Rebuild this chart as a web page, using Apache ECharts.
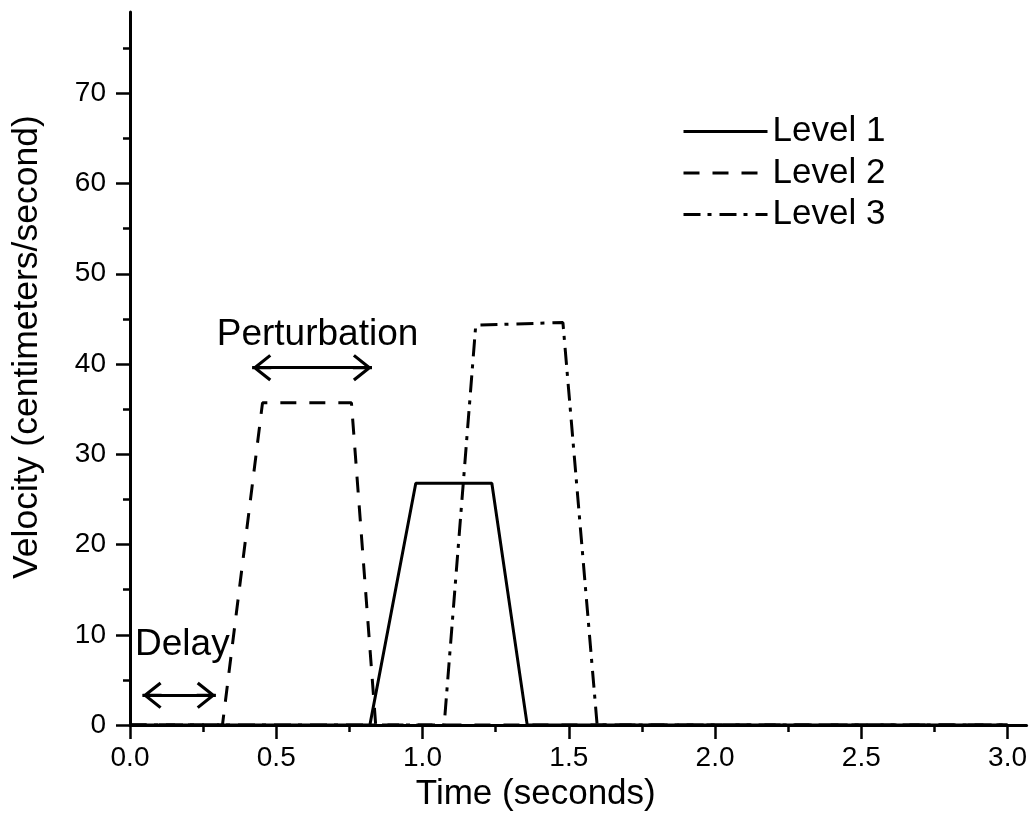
<!DOCTYPE html>
<html><head><meta charset="utf-8">
<script src="https://cdn.jsdelivr.net/npm/echarts@6/dist/echarts.min.js"></script>
<style>html,body{margin:0;padding:0;background:#fff}#c{width:1030px;height:817px}</style>
</head><body><div id="c"></div>
<script>
// ---- data ----
const seriesNames = ['Level 1', 'Level 2', 'Level 3'];
const level1Time = [0, 0.82, 0.977, 1.237, 1.358, 3.0];
const level1Vel  = [0, 0, 26.8, 26.8, 0, 0];
const level2Time = [0, 0.316, 0.453, 0.757, 0.84, 3.0];
const level2Vel  = [0, 0, 35.7, 35.7, 0, 0];
const level3Time = [0, 1.074, 1.182, 1.48, 1.597, 3.0];
const level3Vel  = [0, 0, 44.3, 44.6, 0, 0];
const xTicks = [0, 0.5, 1.0, 1.5, 2.0, 2.5, 3.0];
const xMinorTicks = [0.25, 0.75, 1.25, 1.75, 2.25, 2.75];
const yTicks = [0, 10, 20, 30, 40, 50, 60, 70];
const yMinorTicks = [5, 15, 25, 35, 45, 55, 65, 75];
const annotationTexts = ['Perturbation', 'Delay'];
const annotationPos = [[0.641, 43.2], [0.179, 8.9]];
const arrowSpans = [[[0.418, 39.6], [0.827, 39.6]], [[0.043, 3.3], [0.293, 3.3]]];

// ---- chart ----
const FONT = '"Liberation Sans", Arial, sans-serif';
const zip = (t, v) => t.map((x, i) => [x, v[i]]);
// open arrow head (pointing up), apex at the centre of the symbol box
const chevron = 'path://M-5.5,-19 L-5.5,-19 M32.5,19 L32.5,19 ' +
  'M13.5,0 L27,17 L24.6,19 L13.5,5 L2.4,19 L0,17 Z M12,0 L15,0 L15,19 L12,19 Z';
const dashTypes = ['solid', [16, 13], [17, 7, 4, 8]];
const datasets = [zip(level1Time, level1Vel), zip(level2Time, level2Vel), zip(level3Time, level3Vel)];

const series = seriesNames.map((n, i) => ({
  name: n, type: 'line', xAxisIndex: 0, yAxisIndex: 0,
  data: datasets[i], symbol: 'none', showSymbol: false, silent: true,
  lineStyle: { color: '#000', width: 3, type: dashTypes[i] },
  itemStyle: { color: 'rgba(0,0,0,0)' },
  z: 3
}));
series.push({
  name: 'annot', type: 'line', data: [], silent: true, xAxisIndex: 0, yAxisIndex: 0,
  markLine: {
    silent: true, animation: false,
    symbol: [chevron, chevron], symbolSize: 38,
    lineStyle: { color: '#000', width: 3, type: 'solid' },
    label: { show: false },
    data: arrowSpans.map(s => [{ coord: s[0] }, { coord: s[1] }])
  },
  markPoint: {
    silent: true, animation: false,
    symbol: 'circle', symbolSize: 0,
    label: { show: true, position: 'inside', formatter: '{b}', color: '#000', fontSize: 37, fontFamily: FONT },
    data: annotationTexts.map((t, i) => ({ name: t, coord: annotationPos[i] }))
  }
});

const chart = echarts.init(document.getElementById('c'), null, { renderer: 'canvas' });
chart.setOption({
  animation: false,
  backgroundColor: '#fff',
  textStyle: { fontFamily: FONT, color: '#000' },
  grid: { left: 130, right: 0, top: 12, bottom: 90.5, containLabel: false },
  legend: {
    data: seriesNames, left: 682, top: 114, orient: 'vertical', padding: 0,
    itemWidth: 84, itemHeight: 14, itemGap: 6.5,
    itemStyle: { opacity: 0 },
    lineStyle: { width: 3 },
    textStyle: { fontSize: 35, color: '#000', fontFamily: FONT, lineHeight: 35 },
    selectedMode: false
  },
  xAxis: [{
    type: 'value', min: 0, max: 3.065, interval: 0.5, position: 'bottom',
    name: 'Time (seconds)', nameLocation: 'middle', nameGap: 39,
    nameTextStyle: { fontSize: 35, color: '#000', fontFamily: FONT, padding: [0, 85, 0, 0] },
    axisLine: { show: true, onZero: false, lineStyle: { color: '#000', width: 3 } },
    axisTick: { show: true, inside: false, length: 14, lineStyle: { color: '#000', width: 2.5 }, customValues: xTicks },
    axisLabel: { show: true, margin: 19, fontSize: 28, color: '#000', fontFamily: FONT, customValues: xTicks, formatter: v => Number(v).toFixed(1) },
    splitLine: { show: false }
  }, {
    type: 'value', min: 0, max: 3.065, position: 'bottom',
    axisLine: { show: false },
    axisTick: { show: true, inside: false, length: 7, lineStyle: { color: '#000', width: 2.5 }, customValues: xMinorTicks },
    axisLabel: { show: false }, splitLine: { show: false }
  }],
  yAxis: [{
    type: 'value', min: 0, max: 79, interval: 10, position: 'left',
    name: 'Velocity (centimeters/second)', nameLocation: 'middle', nameGap: 85, nameRotate: 90,
    nameTextStyle: { fontSize: 35.5, color: '#000', fontFamily: FONT, padding: [0, 0, 0, 43] },
    axisLine: { show: true, onZero: false, lineStyle: { color: '#000', width: 3 } },
    axisTick: { show: true, inside: false, length: 14, lineStyle: { color: '#000', width: 2.5 }, customValues: yTicks },
    axisLabel: { show: true, margin: 24, fontSize: 28, color: '#000', fontFamily: FONT, customValues: yTicks },
    splitLine: { show: false }
  }, {
    type: 'value', min: 0, max: 79, position: 'left',
    axisLine: { show: false },
    axisTick: { show: true, inside: false, length: 7, lineStyle: { color: '#000', width: 2.5 }, customValues: yMinorTicks },
    axisLabel: { show: false }, splitLine: { show: false }
  }],
  series: series
});
</script>
</body></html>
